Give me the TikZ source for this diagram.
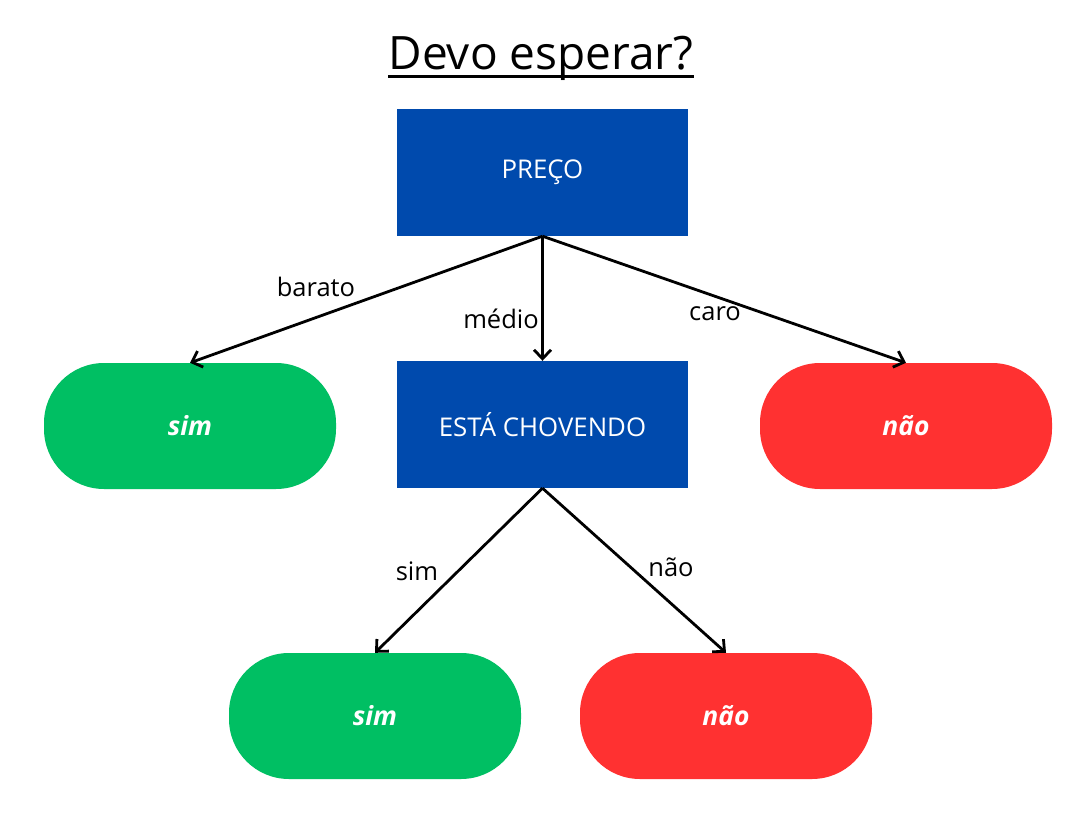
\documentclass[tikz,border=0pt]{standalone}
\usepackage{fontspec}
\setmainfont{Open Sans}
\usetikzlibrary{arrows.meta}
\definecolor{cblue}{HTML}{004AAD}
\definecolor{cgreen}{HTML}{00BF63}
\definecolor{cred}{HTML}{FF3131}
\begin{document}
\begin{tikzpicture}[x=1pt,y=-1pt,
  boxq/.style={fill=cblue,draw=none,minimum width=291pt,minimum height=127pt,text=white,font=\fontsize{25.8}{30}\selectfont,inner sep=0pt},
  pill/.style={draw=none,minimum width=292pt,minimum height=126pt,rounded corners=60pt,text=white,font=\fontsize{26.4}{30}\selectfont\bfseries\itshape,inner sep=0pt},
  yes/.style={pill,fill=cgreen},
  no/.style={pill,fill=cred},
  conn/.style={line width=2.8pt,-{Straight Barb[length=9pt,width=17pt,line width=2.8pt]}},
  lbl/.style={font=\fontsize{25.5}{30}\selectfont,inner sep=0pt}]
\useasboundingbox[fill=white] (0,0) rectangle (1080,835);
\node[inner sep=0pt,font=\fontsize{46}{54}\selectfont] (title) at (541,58) {Devo esperar?};
\draw[line width=2.8pt] ([yshift=-7pt]title.base west) -- ([yshift=-7pt]title.base east);
\node[boxq] (preco) at (542.5,172.5) {PREÇO};
\node[boxq] (chov) at (542.5,424.5) {ESTÁ CHOVENDO};
\node[yes] (sim1) at (190,426) {sim};
\node[no] (nao1) at (906,426) {não};
\node[yes] (sim2) at (375,716) {sim};
\node[no] (nao2) at (726,716) {não};
\draw[conn] (preco.south) -- (sim1.north);
\draw[conn] (preco.south) -- (chov.north);
\draw[conn] (preco.south) -- (nao1.north);
\draw[conn] (chov.south) -- (sim2.north);
\draw[conn] (chov.south) -- (nao2.north);
\node[lbl] (lbarato) at (316,287) {barato};
\node[lbl] (lmedio) at (501,319) {médio};
\node[lbl] (lcaro) at (715,314) {caro};
\node[lbl] (lsim) at (417,571) {sim};
\node[lbl] (lnao) at (671,567) {não};
\end{tikzpicture}
\end{document}
